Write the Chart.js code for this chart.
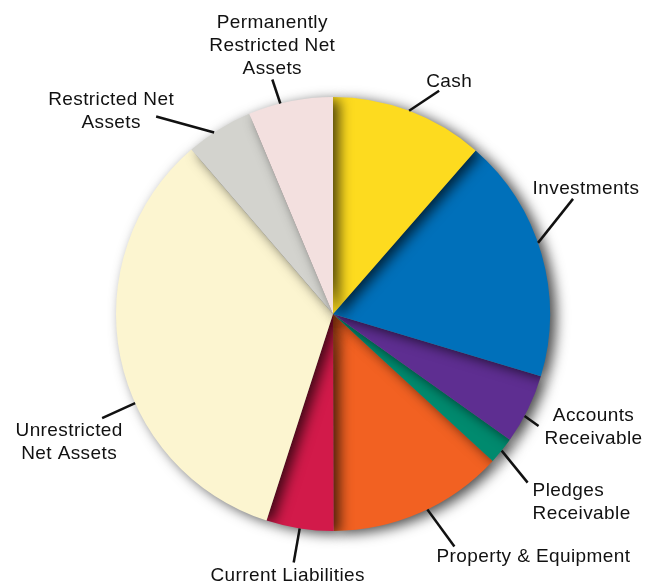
<!DOCTYPE html>
<html>
<head>
<meta charset="utf-8">
<script src="https://cdn.jsdelivr.net/npm/chart.js@4/dist/chart.umd.min.js"></script>
<style>
  html, body { margin: 0; padding: 0; background: #fff; }
  canvas { display: block; }
</style>
</head>
<body>
<canvas id="balanceChart" width="659" height="584"></canvas>
<script>
// ---------------- DATA ----------------
const categories = [
  "Cash",
  "Investments",
  "Accounts Receivable",
  "Pledges Receivable",
  "Property & Equipment",
  "Current Liabilities",
  "Unrestricted Net Assets",
  "Restricted Net Assets",
  "Permanently Restricted Net Assets"
];
const shares = [11.4, 18.2, 5.2, 2.0, 13.1, 5.0, 33.7, 5.0, 6.3];
const labelLines = [
  ["Cash"],
  ["Investments"],
  ["Accounts", "Receivable"],
  ["Pledges", "Receivable"],
  ["Property & Equipment"],
  ["Current Liabilities"],
  ["Unrestricted", "Net Assets"],
  ["Restricted Net", "Assets"],
  ["Permanently", "Restricted Net", "Assets"]
];

// ---------------- STYLE ----------------
const sliceColors = [
  "#FDDB1F", "#0070BA", "#5E2E91", "#008A6E", "#F26122",
  "#D21A4A", "#FCF5D0", "#D3D3CE", "#F3E0DF"
];
// order slices are painted in, so each one throws its shadow on the one below
const paintOrder = [4, 5, 6, 7, 3, 2, 1, 0, 8];

// leader line: [angle shift deg, line dx, line dy, text dx, text dy, align]
const leaders = [
  [0, 30, -20, 10, -4, "center"],
  [-3, 35, -44, 13, -5, "center"],
  [2, 14, 10, 55, -5, "center"],
  [0, 26, 32, 5, 13, "left"],
  [-2, 27, 37, 79, 16, "center"],
  [0, -6, 34, -6, 19, "center"],
  [-12.8, -33, 15, -33, 18, "center"],
  [-1.5, -58, -16, -45, -11, "center"],
  [-2.7, -8, -24, 0, -51, "center"]
];

// ---------------- PLUGINS ----------------
const shadowPie = {
  id: "shadowPie",
  beforeDatasetDraw(chart, args) {
    const ctx = chart.ctx;
    const arcs = args.meta.data;
    ctx.save();
    ctx.shadowColor = "rgba(0,0,0,0.7)";
    ctx.shadowBlur = 13;
    ctx.shadowOffsetX = 6;
    ctx.shadowOffsetY = 3;
    paintOrder.forEach(i => arcs[i].draw(ctx));
    ctx.restore();
    return false;
  }
};

const leaderLabels = {
  id: "leaderLabels",
  afterDatasetsDraw(chart) {
    const ctx = chart.ctx;
    const arcs = chart.getDatasetMeta(0).data;
    ctx.save();
    ctx.strokeStyle = "#111";
    ctx.lineWidth = 2.5;
    ctx.fillStyle = "#111";
    ctx.font = '19px "Liberation Sans", Arial, sans-serif';
    ctx.letterSpacing = "0.4px";
    ctx.textBaseline = "alphabetic";
    arcs.forEach((arc, i) => {
      const p = arc.getProps(["x", "y", "startAngle", "endAngle", "outerRadius"], true);
      const [shift, lx, ly, tx, ty, align] = leaders[i];
      const mid = (p.startAngle + p.endAngle) / 2 + shift * Math.PI / 180;
      const sx = p.x + Math.cos(mid) * p.outerRadius;
      const sy = p.y + Math.sin(mid) * p.outerRadius;
      const ex = sx + lx, ey = sy + ly;
      ctx.beginPath();
      ctx.moveTo(sx, sy);
      ctx.lineTo(ex, ey);
      ctx.stroke();
      ctx.textAlign = align;
      labelLines[i].forEach((line, k) => {
        ctx.fillText(line, ex + tx, ey + ty + k * 23);
      });
    });
    ctx.restore();
  }
};

// ---------------- CHART ----------------
new Chart(document.getElementById("balanceChart").getContext("2d"), {
  type: "pie",
  data: {
    labels: categories,
    datasets: [{
      data: shares,
      backgroundColor: sliceColors,
      borderWidth: 0,
      offset: 0,
      hoverOffset: 0
    }]
  },
  options: {
    responsive: false,
    animation: false,
    events: [],
    devicePixelRatio: 1,
    layout: { padding: { top: 97, bottom: 53, left: 116, right: 109 } },
    plugins: {
      legend: { display: false },
      tooltip: { enabled: false }
    }
  },
  plugins: [shadowPie, leaderLabels]
});
</script>
</body>
</html>
